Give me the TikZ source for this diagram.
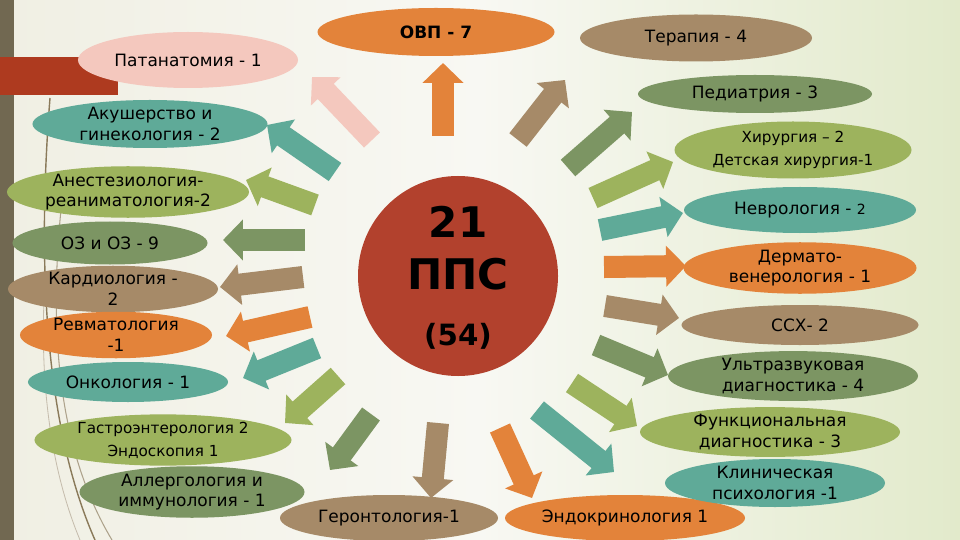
\documentclass[tikz,border=0pt]{standalone}
\usepackage{fontspec}
\setmainfont{DejaVu Sans}
\usetikzlibrary{shapes.geometric,arrows.meta}
\definecolor{cOr}{HTML}{E3833A}
\definecolor{cTan}{HTML}{A68A68}
\definecolor{cGr}{HTML}{7C9563}
\definecolor{cOl}{HTML}{9DB35D}
\definecolor{cTe}{HTML}{5FAA98}
\definecolor{cPk}{HTML}{F4C8BE}
\definecolor{cRed}{HTML}{B2412D}
\definecolor{cRect}{HTML}{AE3A1F}
\definecolor{cBar}{HTML}{716851}
\definecolor{cLine}{HTML}{8A7A5A}
\definecolor{bgL}{HTML}{F0EFE3}
\definecolor{bgM}{HTML}{F8F8F3}
\definecolor{bgR}{HTML}{E2EACB}
\begin{document}
\begin{tikzpicture}[x=0.03cm,y=-0.03cm,
  ell/.style={ellipse, inner sep=0pt, align=center, text=black,
    font=\fontsize{14.5}{17.5}\selectfont},
  sm/.style={font=\fontsize{13}{19.5}\selectfont},
  ew/.style={minimum width=#1*0.3mm},
  eh/.style={minimum height=#1*0.3mm},
  arr/.style={draw=#1, line width=18.8pt, -{Triangle[length=17pt,width=34pt]}},
  big/.style={font=\fontsize{36}{40}\selectfont\bfseries, text=black, inner sep=0pt},
]
\useasboundingbox (0,0) rectangle (960,540);
% background
\shade[left color=bgL, right color=bgR, middle color=bgM] (0,0) rectangle (960,540);
\fill[cBar] (0,0) rectangle (14,540);
\draw[cLine, line width=1.2pt] (50,98) .. controls (38,250) and (42,420) .. (95,540);
\draw[cLine!70, line width=0.9pt] (62,200) .. controls (48,330) and (58,450) .. (112,540);
\draw[cLine!50, line width=0.7pt] (44,300) .. controls (40,400) and (55,480) .. (80,540);
\fill[cRect] (0,57) rectangle (118,95);

% connector end points
\coordinate (t1) at (372,140);  \coordinate (h1) at (312,77);
\coordinate (t2) at (443,136);  \coordinate (h2) at (443,63);
\coordinate (t3) at (518,140);  \coordinate (h3) at (565,80);
\coordinate (t4) at (568,168);  \coordinate (h4) at (632,112);
\coordinate (t5) at (593,198);  \coordinate (h5) at (673,162);
\coordinate (t6) at (600,230);  \coordinate (h6) at (683,213);
\coordinate (t7) at (604,267);  \coordinate (h7) at (686,266);
\coordinate (t8) at (605,306);  \coordinate (h8) at (679,318);
\coordinate (t9) at (596,345);  \coordinate (h9) at (668,375);
\coordinate (t10) at (572,383); \coordinate (h10) at (637,426);
\coordinate (t11) at (537,410); \coordinate (h11) at (614,472);
\coordinate (t12) at (500,428); \coordinate (h12) at (532,498);
\coordinate (t13) at (438,423); \coordinate (h13) at (431,498);
\coordinate (t14) at (371,414); \coordinate (h14) at (330,470);
\coordinate (t15) at (338,376); \coordinate (h15) at (285,423);
\coordinate (t16) at (317,348); \coordinate (h16) at (243,378);
\coordinate (t17) at (310,317); \coordinate (h17) at (226,336);
\coordinate (t18) at (303,277); \coordinate (h18) at (220,287);
\coordinate (t19) at (305,240); \coordinate (h19) at (223,240);
\coordinate (t20) at (315,205); \coordinate (h20) at (246,180);
\coordinate (t21) at (335,172); \coordinate (h21) at (267,125);

% arrows
\draw[arr=cPk] (t1) -- (h1);
\draw[arr=cOr] (t2) -- (h2);
\draw[arr=cTan] (t3) -- (h3);
\draw[arr=cGr] (t4) -- (h4);
\draw[arr=cOl] (t5) -- (h5);
\draw[arr=cTe] (t6) -- (h6);
\draw[arr=cOr] (t7) -- (h7);
\draw[arr=cTan] (t8) -- (h8);
\draw[arr=cGr] (t9) -- (h9);
\draw[arr=cOl] (t10) -- (h10);
\draw[arr=cTe] (t11) -- (h11);
\draw[arr=cOr] (t12) -- (h12);
\draw[arr=cTan] (t13) -- (h13);
\draw[arr=cGr] (t14) -- (h14);
\draw[arr=cOl] (t15) -- (h15);
\draw[arr=cTe] (t16) -- (h16);
\draw[arr=cOr] (t17) -- (h17);
\draw[arr=cTan] (t18) -- (h18);
\draw[arr=cGr] (t19) -- (h19);
\draw[arr=cOl] (t20) -- (h20);
\draw[arr=cTe] (t21) -- (h21);

% ellipses
\node[ell, fill=cPk, ew=220, eh=56] (pat) at (188,60) {Патанатомия - 1};
\node[ell, fill=cTe, ew=235, eh=48] (aku) at (150,124) {Акушерство и\\гинекология - 2};
\node[ell, fill=cOl, ew=242, eh=50] (ane) at (128,192) {Анестезиология-\\реаниматология-2};
\node[ell, fill=cGr, ew=195, eh=43] (oz) at (110,243) {ОЗ и ОЗ - 9};
\node[ell, fill=cTan, ew=210, eh=38] (kar) at (113,289) {Кардиология -\\2};
\node[ell, fill=cOr, ew=192, eh=40] (rev) at (116,335) {Ревматология\\-1};
\node[ell, fill=cTe, ew=200, eh=40] (onk) at (128,382) {Онкология - 1};
\node[ell, sm, fill=cOl, ew=257, eh=40] (gas) at (163,440) {Гастроэнтерология 2\\Эндоскопия 1};
\node[ell, fill=cGr, ew=225, eh=48] (all) at (192,492) {Аллергология и\\иммунология - 1};
\node[ell, fill=cTan, ew=218, eh=46] (ger) at (389,518) {Геронтология-1};
\node[ell, fill=cOr, ew=240, eh=46] (end) at (625,518) {Эндокринология 1};
\node[ell, fill=cTe, ew=220, eh=48] (kli) at (775,483) {Клиническая\\психология -1};
\node[ell, fill=cOl, ew=260, eh=46] (fun) at (770,432) {Функциональная\\диагностика - 3};
\node[ell, fill=cGr, ew=250, eh=44] (uzd) at (793,376) {Ультразвуковая\\диагностика - 4};
\node[ell, fill=cTan, ew=237, eh=40] (ssx) at (800,325) {ССХ- 2};
\node[ell, fill=cOr, ew=233, eh=42] (der) at (800,268) {Дермато-\\венерология - 1};
\node[ell, fill=cTe, ew=232, eh=46] (nev) at (800,210) {Неврология - {\fontsize{12}{14}\selectfont 2}};
\node[ell, sm, fill=cOl, ew=237, eh=57] (xir) at (793,150) {Хирургия – 2\\Детская хирургия-1};
\node[ell, fill=cGr, ew=234, eh=38] (ped) at (755,94) {Педиатрия - 3};
\node[ell, fill=cTan, ew=232, eh=47] (ter) at (696,38) {Терапия - 4};
\node[ell, fill=cOr, ew=237, eh=48, font=\fontsize{14.5}{17}\selectfont\bfseries] (ovp) at (436,32) {ОВП - 7};

% centre
\node[circle, fill=cRed, inner sep=0pt, minimum size=200*0.3mm] (c) at (458,276) {};
\node[big] (n21) at (458,222) {21};
\node[big] (npps) at (458,274) {ППС};
\node[big, font=\fontsize{25}{28}\selectfont\bfseries] (n54) at (458,336) {(54)};
\end{tikzpicture}
\end{document}
